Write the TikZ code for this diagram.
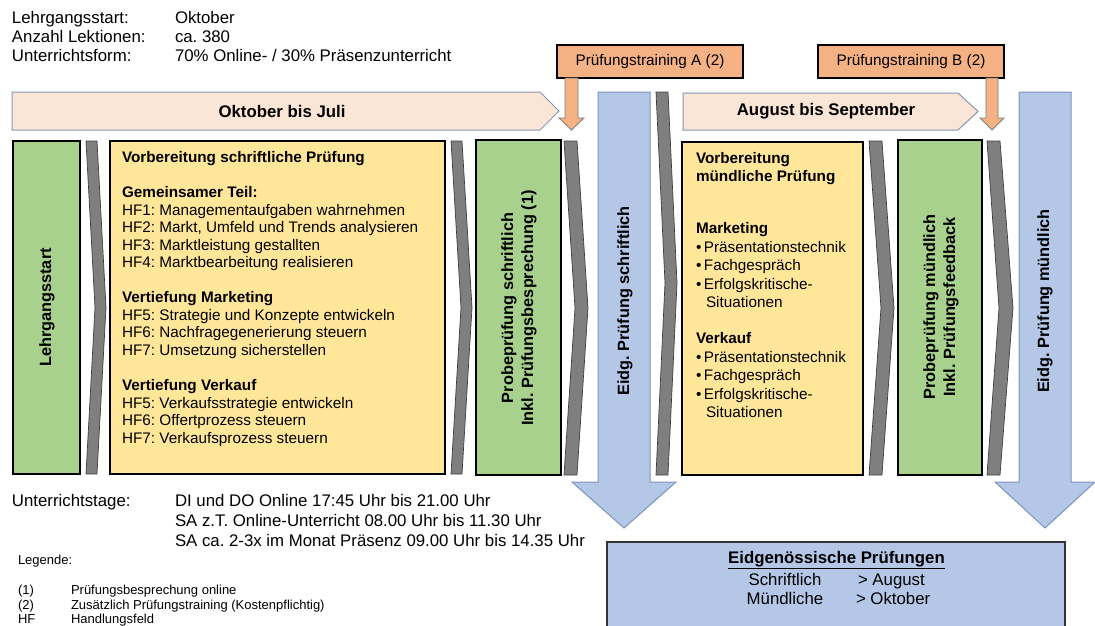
\documentclass[tikz,border=0pt]{standalone}
\usepackage{fontspec}
\setmainfont{Liberation Sans}
\frenchspacing
\definecolor{peach}{HTML}{FBE5D6}
\definecolor{bandline}{HTML}{8497B0}
\definecolor{orangef}{HTML}{F4B183}
\definecolor{greenf}{HTML}{A9D18E}
\definecolor{yellowf}{HTML}{FFE699}
\definecolor{chevf}{HTML}{7F7F7F}
\definecolor{chevd}{HTML}{3F3F3F}
\definecolor{bluef}{HTML}{B4C7E7}
\definecolor{blueline}{HTML}{7D93BA}
\begin{document}
\begin{tikzpicture}[x=1pt,y=-1pt,
  every node/.style={inner sep=0pt,outer sep=0pt},
  band/.style={fill=peach,draw=bandline,line width=1pt},
  obox/.style={fill=orangef,draw=black,line width=1.2pt},
  oarrow/.style={fill=orangef,draw=chevf,line width=0.8pt},
  gbox/.style={fill=greenf,draw=black,line width=1.2pt},
  ybox/.style={fill=yellowf,draw=black,line width=1.2pt},
  chev/.style={fill=chevf,draw=chevd,line width=0.7pt},
  barrow/.style={fill=bluef,draw=blueline,line width=1pt},
  bbox/.style={fill=bluef,draw=black!80,line width=1.2pt},
  big/.style={anchor=base,font=\fontsize{16.8}{19.3}\selectfont},
  bigb/.style={font=\bfseries\fontsize{16.8}{19.3}\selectfont},
  rotb/.style={font=\bfseries\fontsize{16.3}{20}\selectfont,rotate=90,align=center},
  body/.style={anchor=base west,font=\fontsize{15.3}{17.6}\selectfont},
  bodyb/.style={anchor=base west,font=\bfseries\fontsize{15.3}{17.6}\selectfont},
  hdr/.style={anchor=base west,font=\fontsize{16.8}{19.3}\selectfont},
  leg/.style={anchor=base west,font=\fontsize{13}{15}\selectfont}]
\clip (0,0) rectangle (1095,625);
\fill[white] (0,0) rectangle (1095,625);

% header
\node[hdr] (h1) at (12,23.5) {Lehrgangsstart:};
\node[hdr] (h1v) at (175,23.5) {Oktober};
\node[hdr] (h2) at (12,42.5) {Anzahl Lektionen:};
\node[hdr] (h2v) at (175,42.5) {ca. 380};
\node[hdr] (h3) at (12,61.5) {Unterrichtsform:};
\node[hdr] (h3v) at (175,61.5) {70\% Online- / 30\% Präsenzunterricht};

% bands
\draw[band] (12,92) -- (540,92) -- (559,111) -- (540,130) -- (12,130) -- cycle;
\node[bigb] (b1) at (282,111) {Oktober bis Juli};
\draw[band] (683,93) -- (958,93) -- (978,111.5) -- (958,130) -- (683,130) -- cycle;
\node[bigb] (b2) at (826,111.5) {August bis September};

% Prüfungstraining boxes and arrows
\node[obox,minimum width=186pt,minimum height=33pt,font=\fontsize{15.3}{17.6}\selectfont] (pa) at (650,61.5) {Prüfungstraining A (2)};
\node[obox,minimum width=186pt,minimum height=33pt,font=\fontsize{15.3}{17.6}\selectfont] (pb) at (911,61.5) {Prüfungstraining B (2)};
\coordinate (ta) at (571.5,130);
\coordinate (tb) at (992,130);
\draw[oarrow] (565,78) -- (578,78) -- (578,118) -- (584,118) -- (ta) -- (559,118) -- (565,118) -- cycle;
\draw[oarrow] (986,78) -- (998,78) -- (998,118) -- (1004,118) -- (tb) -- (980,118) -- (986,118) -- cycle;

% column 1: Lehrgangsstart
\draw[gbox] (13,141) rectangle (80,474);
\node[rotb] (lg) at (47,307.5) {Lehrgangsstart};
\draw[chev] (86,141) -- (97,141) -- (106,307.5) -- (97,474) -- (86,474) -- (95,307.5) -- cycle;

% yellow box 1
\draw[ybox] (110,141) rectangle (445,474);
\node[bodyb] (y1) at (122,162.5) {Vorbereitung schriftliche Prüfung};
\node[bodyb] (y2) at (122,197.5) {Gemeinsamer Teil:};
\node[body] (y3) at (122,215) {HF1: Managementaufgaben wahrnehmen};
\node[body] (y4) at (122,232.5) {HF2: Markt, Umfeld und Trends analysieren};
\node[body] (y5) at (122,250) {HF3: Marktleistung gestallten};
\node[body] (y6) at (122,267.5) {HF4: Marktbearbeitung realisieren};
\node[bodyb] (y7) at (122,302.5) {Vertiefung Marketing};
\node[body] (y8) at (122,320) {HF5: Strategie und Konzepte entwickeln};
\node[body] (y9) at (122,337.5) {HF6: Nachfragegenerierung steuern};
\node[body] (y10) at (122,355) {HF7: Umsetzung sicherstellen};
\node[bodyb] (y11) at (122,390.5) {Vertiefung Verkauf};
\node[body] (y12) at (122,408) {HF5: Verkaufsstrategie entwickeln};
\node[body] (y13) at (122,425.5) {HF6: Offertprozess steuern};
\node[body] (y14) at (122,443) {HF7: Verkaufsprozess steuern};
\draw[chev] (451,141) -- (462,141) -- (472,307.5) -- (462,474) -- (451,474) -- (461,307.5) -- cycle;

% green box 2
\draw[gbox] (476,140) rectangle (561,475);
\node[rotb] (pp1) at (519,308) {Probeprüfung schriftlich\\Inkl. Prüfungsbesprechung (1)};
\draw[chev] (564,141) -- (577,141) -- (588,308) -- (577,475) -- (564,475) -- (575,308) -- cycle;

% blue arrow 1
\draw[barrow] (598,92) -- (650,92) -- (650,482) -- (676,482) -- (624,528) -- (572,482) -- (598,482) -- cycle;
\node[rotb] (e1) at (625,301) {Eidg. Prüfung schriftlich};
\draw[chev] (656,92) -- (668,92) -- (677,283) -- (668,475) -- (656,475) -- (665,283) -- cycle;

% yellow box 2
\draw[ybox] (682,142) rectangle (863,475);
\node[bodyb] (z1) at (696,163.5) {Vorbereitung};
\node[bodyb] (z2) at (696,181) {mündliche Prüfung};
\node[bodyb] (z3) at (696,233.5) {Marketing};
\node[body] (z4) at (696,252) {•\,Präsentationstechnik};
\node[body] (z5) at (696,270.5) {•\,Fachgespräch};
\node[body] (z6) at (696,289) {•\,Erfolgskritische-};
\node[body] (z7) at (706,307.5) {Situationen};
\node[bodyb] (z8) at (696,343.5) {Verkauf};
\node[body] (z9) at (696,362) {•\,Präsentationstechnik};
\node[body] (z10) at (696,380.5) {•\,Fachgespräch};
\node[body] (z11) at (696,399) {•\,Erfolgskritische-};
\node[body] (z12) at (706,417.5) {Situationen};
\draw[chev] (869,141) -- (882,141) -- (894,308) -- (882,475) -- (869,475) -- (881,308) -- cycle;

% green box 3
\draw[gbox] (898,140) rectangle (982,475);
\node[rotb] (pp2) at (941,307) {Probeprüfung mündlich\\Inkl. Prüfungsfeedback};
\draw[chev] (987,141) -- (1000,141) -- (1013,308) -- (1000,475) -- (987,475) -- (999,308) -- cycle;

% blue arrow 2
\draw[barrow] (1019,92) -- (1071,92) -- (1071,482) -- (1095,482) -- (1045,528) -- (995,482) -- (1019,482) -- cycle;
\node[rotb] (e2) at (1045,301) {Eidg. Prüfung mündlich};

% bottom text
\node[hdr] (u0) at (12,506.5) {Unterrichtstage:};
\node[hdr] (u1) at (175,506.5) {DI und DO Online 17:45 Uhr bis 21.00 Uhr};
\node[hdr] (u2) at (175,526.5) {SA z.T. Online-Unterricht 08.00 Uhr bis 11.30 Uhr};
\node[hdr] (u3) at (175,546.5) {SA ca. 2-3x im Monat Präsenz 09.00 Uhr bis 14.35 Uhr};

% legend
\node[leg] (l0) at (18,564) {Legende:};
\node[leg] (l1) at (18,594.5) {(1)};
\node[leg] (l1t) at (71,594.5) {Prüfungsbesprechung online};
\node[leg] (l2) at (18,609) {(2)};
\node[leg] (l2t) at (71,609) {Zusätzlich Prüfungstraining (Kostenpflichtig)};
\node[leg] (l3) at (18,623.5) {HF};
\node[leg] (l3t) at (71,623.5) {Handlungsfeld};

% bottom blue box
\draw[bbox] (607,542) rectangle (1065,640);
\node[bigb] (eh) at (836.5,560) {\underline{Eidgenössische Prüfungen}};
\node[big] (s1) at (785,585) {Schriftlich};
\node[big,anchor=base west] (s2) at (858,585) {> August};
\node[big] (m1) at (785,604) {Mündliche};
\node[big,anchor=base west] (m2) at (856,604) {> Oktober};
\end{tikzpicture}
\end{document}
